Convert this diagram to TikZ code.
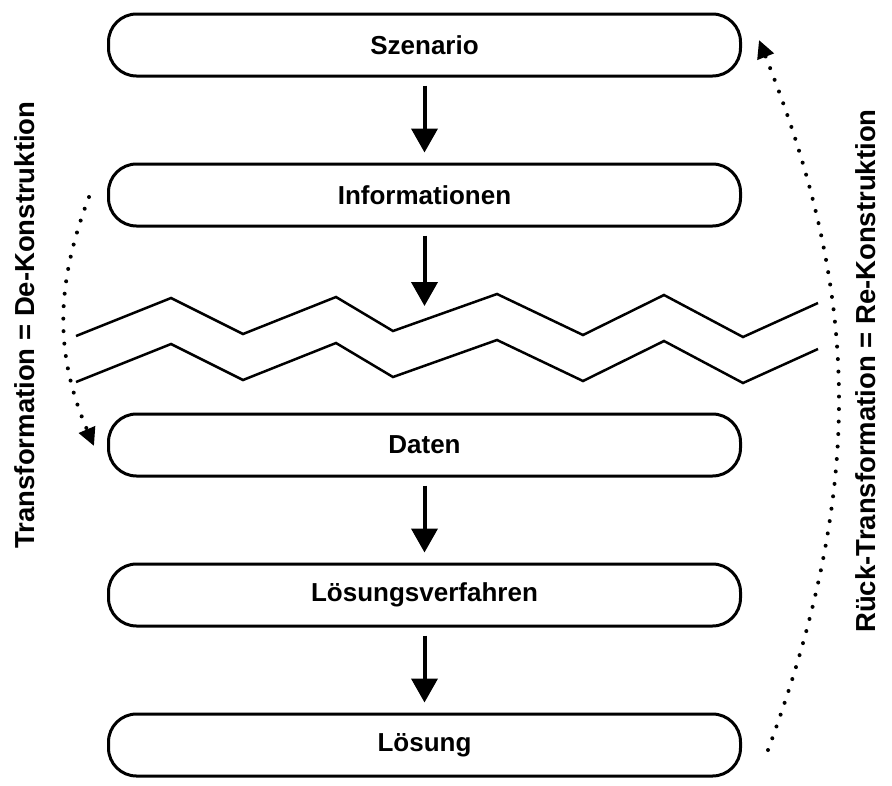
\documentclass[tikz,border=0pt]{standalone}
\usepackage{fontspec}
\setmainfont{Liberation Sans}
\usetikzlibrary{arrows.meta}

\def\boxwidth{632}
\def\boxheight{62}
\def\gap{46}

\begin{document}
\begin{tikzpicture}[x=1pt,y=-1pt,
    nodes = {font=\fontsize{26}{30}\selectfont\bfseries},
    stagebox/.style = {draw, line width=3pt, rounded corners=28pt,
                       minimum width=\boxwidth pt, minimum height=\boxheight pt},
    sidelabel/.style = {rotate=90, font=\fontsize{27.5}{32}\selectfont\bfseries},
    flow/.style     = {line width=4pt, -{Triangle[length=24pt,width=26pt]},
                       shorten <=8pt, shorten >=10pt},
    loopback/.style = {line width=4pt, line cap=round, dash pattern=on 0pt off 12.5pt,
                       -{Triangle[length=18pt,width=17pt]}},
    cutline/.style  = {line width=2.5pt}]
  \useasboundingbox (0,0) rectangle (892,785);
  % Stages of the process
  \foreach \name/\ypos/\text in {
      szenario/45/Szenario,
      info/195/Informationen,
      daten/445/Daten,
      verfahren/595/L\"osungsverfahren,
      loesung/745/L\"osung
    } {
      \node[stagebox] (\name) at (424.5,\ypos) {\text};
    };
  % Arrows between the stages
  \coordinate (cut) at (424.5,306);
  \draw[flow] (szenario) -- (info);
  \draw[flow, shorten >=0pt] (info) -- (cut);
  \draw[flow] (daten) -- (verfahren);
  \draw[flow] (verfahren) -- (loesung);
  % Break between information and data
  \foreach \shift in {0,\gap} {
      \draw[cutline, yshift=-\shift pt] (76,336) -- (171,298) -- (243,334) -- (336,297)
        -- (393,331) -- (497,294) -- (583,335) -- (664,295) -- (743,337) -- (818,303);
    };
  % Transformation and back transformation
  \coordinate (deStart) at (89,197);
  \coordinate (deEnd)   at (94,446);
  \coordinate (reStart) at (768,750);
  \coordinate (reEnd)   at (759,40);
  \draw[loopback] (deStart) to[bend right=22] (deEnd);
  \draw[loopback] (reStart) to[bend right=21] (reEnd);
  \node[sidelabel] (deLabel) at (25,325) {Transformation = De-Konstruktion};
  \node[sidelabel] (reLabel) at (866,371) {R\"uck-Transformation = Re-Konstruktion};
\end{tikzpicture}
\end{document}
